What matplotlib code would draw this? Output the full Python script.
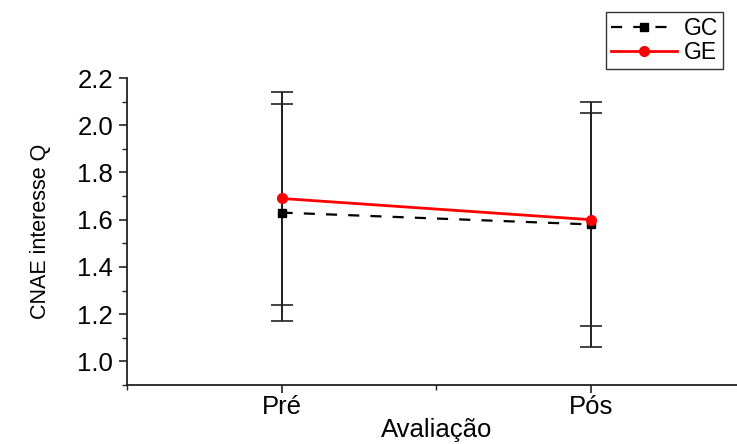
import matplotlib
matplotlib.use("Agg")
import matplotlib.pyplot as plt
from matplotlib.ticker import MultipleLocator, FixedLocator, FormatStrFormatter

plt.rcParams["font.family"] = ["Liberation Sans", "DejaVu Sans"]

# group means and standard deviations per evaluation moment
moments = ["Pré", "Pós"]
gc_mean = [1.63, 1.58]
gc_sd = [0.46, 0.52]
ge_mean = [1.69, 1.60]
ge_sd = [0.45, 0.45]

x = [1, 2]

fig = plt.figure(figsize=(7.37, 4.44), dpi=100)
ax = fig.add_axes([0.1723, 0.1329, 0.839, 0.6914])

for mean, sd in ((gc_mean, gc_sd), (ge_mean, ge_sd)):
    eb = ax.errorbar(x, mean, yerr=sd, fmt="none", ecolor="#222222",
                     elinewidth=1.4, capsize=8, capthick=1.2, zorder=2)
    for cap in eb[1]:
        cap.set_color("#666666")

ax.plot(x, gc_mean, color="black", lw=1.6, dashes=(5, 5),
        marker="s", ms=6, mfc="black", mec="black", label="GC", zorder=3)
ax.plot(x, ge_mean, color="#ff0000", lw=2.0,
        marker="o", ms=7, mfc="#ff0000", mec="#ff0000", label="GE", zorder=4)

ax.set_xlim(0.5, 2.5)
ax.set_ylim(0.9, 2.2)
ax.set_xticks(x)
ax.set_xticklabels(moments)
ax.xaxis.set_minor_locator(FixedLocator([0.5, 1.5, 2.5]))
ax.yaxis.set_major_locator(MultipleLocator(0.2))
ax.yaxis.set_minor_locator(MultipleLocator(0.1))
ax.yaxis.set_major_formatter(FormatStrFormatter("%.1f"))

for side in ("top", "right"):
    ax.spines[side].set_visible(False)
for side in ("left", "bottom"):
    ax.spines[side].set_linewidth(1.3)
    ax.spines[side].set_color("#222222")

ax.tick_params(which="major", direction="out", length=6, width=1.2,
               labelsize=18.5, color="#222222", pad=4)
ax.tick_params(axis="x", which="major", pad=1.5)
ax.tick_params(which="minor", direction="out", length=3.5, width=1.0,
               color="#222222")

ax.set_xlabel("Avaliação", fontsize=18.5, labelpad=-1)
ax.set_ylabel("CNAE interesse Q", fontsize=15.5, labelpad=19)

leg = ax.legend(loc="upper right", fontsize=16.5, frameon=True,
                fancybox=False, edgecolor="black", handlelength=2.9,
                handletextpad=0.3, borderpad=0.2, labelspacing=0.05,
                borderaxespad=0)
leg.get_frame().set_linewidth(1.0)
leg.set_bbox_to_anchor((0.981, 0.972), transform=fig.transFigure)

fig.savefig("out.png", dpi=100)
